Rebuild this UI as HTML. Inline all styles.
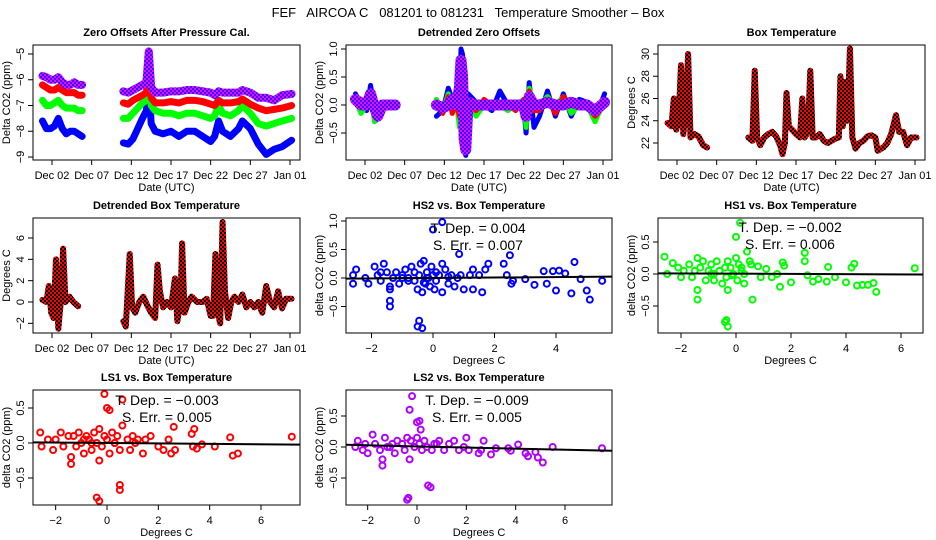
<!DOCTYPE html>
<html><head><meta charset="utf-8">
<style>
html,body{margin:0;padding:0;background:#fff;}
svg{display:block;font-family:"Liberation Sans",sans-serif;}
</style></head>
<body>
<svg id="chart" width="936" height="540" viewBox="0 0 936 540" xmlns="http://www.w3.org/2000/svg">
<defs>
<pattern id="purp" patternUnits="userSpaceOnUse" width="4" height="4"><rect width="4" height="4" fill="#ff00ff"/><rect width="2" height="2" fill="#2020ff"/><rect x="2" y="2" width="2" height="2" fill="#2020ff"/></pattern>
<pattern id="redblk" patternUnits="userSpaceOnUse" width="4" height="4"><rect width="4" height="4" fill="#ff0000"/><rect width="2" height="2" fill="#000"/><rect x="2" y="2" width="2" height="2" fill="#000"/></pattern>
</defs>
<text x="468" y="17" text-anchor="middle" font-size="13" style="white-space:pre" xml:space="preserve">FEF   AIRCOA C   081201 to 081231   Temperature Smoother – Box</text>
</svg>
<script>
// ---------- data ----------
const zeroTime=[0.8,1.3,1.8,2.3,2.8,3.3,3.8,4.3,4.8,5.3,5.8,11,11.6,12.2,12.8,13.4,13.9,14.2,14.5,15,16,17,18,19,20,21,22,22.5,23,23.5,24.5,25.5,26,27,28,29,30,31,32.2];
const zeroHS2=[-7.6,-7.9,-7.9,-7.8,-7.5,-7.9,-8.1,-8.0,-8.0,-8.1,-8.2,-8.45,-8.5,-8.3,-7.9,-7.5,-7.2,-6.0,-7.7,-8.0,-8.1,-8.0,-8.2,-8.0,-8.0,-8.2,-8.4,-8.2,-7.6,-8.0,-8.2,-7.9,-7.6,-7.9,-8.5,-8.9,-8.7,-8.6,-8.35];
const zeroHS1=[-6.8,-7.0,-7.0,-6.9,-6.8,-7.0,-7.1,-7.1,-7.1,-7.2,-7.2,-7.5,-7.5,-7.3,-7.1,-6.9,-6.8,-5.6,-7.0,-7.2,-7.3,-7.3,-7.4,-7.3,-7.3,-7.4,-7.5,-7.4,-7.0,-7.3,-7.4,-7.2,-7.0,-7.3,-7.7,-7.8,-7.7,-7.6,-7.5];
const zeroLS1=[-6.2,-6.3,-6.4,-6.4,-6.3,-6.4,-6.5,-6.5,-6.5,-6.6,-6.6,-6.9,-6.95,-6.8,-6.7,-6.6,-6.5,-5.4,-6.7,-6.9,-6.9,-6.85,-6.9,-6.8,-6.8,-6.85,-6.95,-7.0,-6.8,-6.9,-6.9,-6.85,-6.75,-6.95,-7.1,-7.2,-7.15,-7.1,-7.0];
const zeroLS2=[-5.85,-5.9,-6.0,-6.0,-5.9,-6.1,-6.2,-6.2,-6.1,-6.2,-6.2,-6.45,-6.5,-6.4,-6.3,-6.2,-6.1,-4.9,-6.3,-6.5,-6.5,-6.45,-6.45,-6.4,-6.4,-6.45,-6.5,-6.6,-6.45,-6.5,-6.5,-6.5,-6.4,-6.5,-6.7,-6.7,-6.8,-6.6,-6.55];

const detTime=[0.8,1.5,2.2,2.7,3.2,3.6,4.2,5,5.8,11,11.8,12.5,13,13.5,13.9,14.1,14.3,14.5,14.7,15,16,17,18,19,20,21,22,22.3,22.7,23.3,24,25,26,27,28,29,30,31,32.2];
const detLS2=[0.1,0,0,0.2,-0.05,-0.2,0,0,0,0,-0.05,0,0.1,0,0.3,0.8,0.5,-0.6,-0.8,0.05,0,0,0,0,0,0,0,-0.2,0.15,0,0,0.05,0,0,0.05,0,0,-0.1,0.05];
const detHS2=[0.2,0,-0.1,0.35,-0.1,-0.25,0,0,0,-0.2,-0.1,0.3,0.1,0.2,-0.2,1.0,0.9,-0.7,-0.9,0.2,0.05,0,-0.1,0.25,0,0,0,-0.5,0.4,-0.4,-0.2,0.25,-0.2,0.2,-0.2,0.1,0.05,-0.25,0.2];
const detHS1=[0.1,-0.15,0,0.25,-0.3,-0.25,0,0,0,0.1,-0.1,0.2,0,0.1,-0.4,0.8,0.6,-0.6,-0.75,0.1,-0.2,0,0,0,-0.1,0,0.1,-0.4,0.3,0,0,0.15,0,0.15,-0.15,0,0,-0.3,0.1];
const detLS1=[0.15,0.1,0,0.25,-0.1,-0.2,0,0,0,0.05,-0.15,0.15,-0.15,0.05,-0.2,0.6,0.7,-0.55,-0.8,0.05,-0.1,0.1,0,0,0,-0.1,0.1,-0.1,0.25,-0.1,-0.1,0.1,-0.15,0.15,0,0.05,0,-0.2,0];

const boxTime=[0.8,1.3,1.6,1.9,2.2,2.5,2.8,3.1,3.4,3.7,4.2,4.7,5.3,5.8,11,11.5,11.8,12.1,12.5,13,13.5,14,14.5,15,15.3,15.6,15.8,16.1,16.5,17,17.5,17.8,18.1,18.5,18.8,19.1,19.5,20,20.5,21,21.5,22,22.4,22.6,22.9,23.2,23.5,23.8,24.1,24.5,25,25.5,26,26.5,27,27.3,28,28.5,29,29.6,30,30.5,31,31.5,32.2];
const boxTemp=[23.8,23.5,26,23.2,24,29,22.8,25,30,22.5,22.8,22.6,21.8,21.6,22.5,22.2,28.5,22.5,21.8,22.5,22.8,23,22.6,21.8,21,22,26.5,23.5,23.2,22.8,22.5,26,22.5,23,28.5,22.5,22.5,22.8,22.2,22,22.2,22.4,22.5,28,23.5,27.5,24,30.5,22.5,21.5,22,22.2,22.6,22.7,22.5,21.3,21.6,22,22.8,24.5,23,23,21.8,22.5,22.5];
const dboxTime=[0.8,1.3,1.6,1.9,2.2,2.5,2.8,3.1,3.4,3.7,4.2,4.7,5.3,11,11.3,11.8,12.1,12.5,13,13.5,14,14.5,15,15.3,15.6,16,16.5,17,17.5,17.8,18.2,18.4,18.7,19.2,19.6,20.3,21,21.5,22,22.3,22.6,22.9,23.2,23.5,23.8,24.2,24.6,25,25.5,26,26.5,27,27.5,28,28.5,29,29.5,30,30.5,31,31.5,32.2];
const dboxTemp=[0.2,0,1.5,-1,-1.5,4,-2.5,0,5,0,0.5,0,-0.4,-1.8,-2.3,4.5,-0.5,-1,0,0.5,-0.3,-1,-1.5,3.5,1,-0.5,0,-0.5,2.2,-1.8,0,5.5,-1,0,0.5,0,0,0.3,-1.3,-1.3,4.5,-1,-2,7.5,1,-1.5,0,0.5,0,0.7,-0.5,0,-0.5,0,-1,1.5,0,-0.5,1,-0.6,0.3,0.3];

const hs2Temp=[-2.6,-2.6,-2.5,-2.2,-2.1,-1.9,-1.8,-1.7,-1.6,-1.5,-1.4,-1.4,-1.4,-1.3,-1.2,-1.1,-1,-0.9,-0.8,-0.7,-0.6,-0.5,-0.45,-0.4,-0.35,-0.3,-0.25,-0.2,-0.15,-0.1,-0.05,0,0.05,0.1,0.2,0.3,0.3,0.4,0.5,0.6,0.7,0.8,0.9,1.0,1.2,1.3,1.3,1.5,1.6,1.7,1.8,2.3,2.4,2.5,2.55,2.6,3.0,3.3,3.6,3.7,3.9,4.0,4.1,4.3,4.5,4.6,4.8,5.0,5.1,5.5,-1.4,-0.5,-0.45,-0.35,0.0,0.3,0.85,-0.8,-0.6,-0.2,0.1,0.5,-1.0,-1.7,-0.3];
const hs2Delta=[0.05,-0.1,0.15,0.0,-0.1,0.2,0.05,-0.05,0.25,0.1,-0.2,-0.4,-0.5,0.0,0.1,-0.1,0.05,0.15,-0.05,0.2,0.1,-0.2,0.05,0.25,-0.25,0.3,-0.1,0.1,0.0,-0.15,0.2,0.05,-0.2,0.1,0.05,0.25,-0.25,0.15,-0.1,0.05,-0.15,0.0,0.05,-0.2,0.05,0.15,-0.2,0.05,-0.25,0.15,0.25,0.25,0.05,0.4,-0.1,-0.05,-0.02,-0.12,0.12,-0.1,0.12,-0.22,0.13,0.08,-0.27,0.28,-0.02,-0.22,-0.38,-0.05,-0.15,-0.85,-0.75,-0.88,0.85,0.98,0.42,0.0,-0.05,0.0,-0.05,0.02,0.0,0.1,-0.08];
const hs1Temp=[-2.6,-2.5,-2.3,-2.1,-2.0,-1.9,-1.7,-1.6,-1.4,-1.4,-1.4,-1.3,-1.2,-1.1,-1.0,-0.9,-0.8,-0.7,-0.6,-0.5,-0.4,-0.35,-0.3,-0.3,-0.2,-0.1,0,0.05,0.1,0.2,0.2,0.3,0.4,0.5,0.55,0.6,0.8,0.9,1.1,1.3,1.5,1.6,1.7,1.75,2.0,2.5,2.5,2.6,2.8,3.0,3.3,3.35,3.6,4.0,4.2,4.3,4.4,4.6,4.8,5.0,5.1,6.5,-0.4,-0.35,-0.3,0.0,0.15,-0.8,-0.6,-0.15,0.3,-1.5,-0.9];
const hs1Delta=[0.27,0.0,0.17,0.1,-0.05,0.05,0.15,-0.05,0.25,-0.25,-0.4,0.1,0.2,-0.1,0.05,0.15,-0.1,0.2,0.05,-0.15,0.1,-0.05,0.2,-0.25,0.1,0.0,0.25,-0.1,0.15,0.05,0.1,-0.15,0.35,0.2,0.15,-0.4,0.12,-0.05,0.08,-0.05,0.0,-0.2,0.18,0.13,-0.13,0.33,0.2,-0.02,-0.12,-0.08,-0.12,0.11,-0.05,-0.13,0.1,0.16,-0.18,-0.17,-0.17,-0.14,-0.28,0.09,-0.75,-0.72,-0.82,0.58,0.8,0.0,0.05,-0.02,0.0,0.05,0.0];
const ls1Temp=[-2.6,-2.55,-2.3,-2.1,-2.0,-1.8,-1.7,-1.5,-1.4,-1.4,-1.3,-1.2,-1.1,-1.0,-0.9,-0.8,-0.7,-0.6,-0.5,-0.4,-0.3,-0.3,-0.2,-0.1,0,0.1,0.2,0.3,0.4,0.5,0.6,0.8,0.9,1.0,1.2,1.4,1.5,1.7,2.0,2.2,2.4,2.5,2.6,2.65,3.3,3.35,3.4,3.5,3.7,4.2,4.8,4.9,5.1,7.2,-0.4,-0.3,-0.1,0.0,0.1,0.5,0.5,0.6,-0.6,0.3,-0.9,1.1];
const ls1Delta=[0.15,-0.05,0.05,-0.1,0.05,0.15,-0.05,0.1,-0.2,-0.3,0.1,-0.05,0.15,0.0,-0.15,0.1,0.05,-0.1,0.15,0.0,-0.25,0.2,-0.05,0.1,0.05,-0.15,0.15,0.0,0.1,-0.1,0.25,0.05,-0.1,0.1,0.05,-0.15,0.05,0.1,-0.05,-0.1,0.05,-0.15,0.23,-0.1,0.13,-0.05,0.2,-0.08,-0.02,-0.05,0.08,-0.18,-0.15,0.09,-0.78,-0.83,0.7,0.5,0.47,-0.6,-0.67,0.62,0.0,0.0,0.05,0.0];
const ls2Temp=[-2.5,-2.4,-2.2,-2.1,-2.0,-1.8,-1.7,-1.5,-1.4,-1.4,-1.3,-1.2,-1.0,-0.9,-0.8,-0.6,-0.5,-0.4,-0.3,-0.25,-0.1,0,0.1,0.2,0.3,0.4,0.6,0.8,0.9,1.1,1.3,1.5,1.7,1.9,2.0,2.1,2.5,2.6,2.7,3.0,3.2,3.7,3.8,4.1,4.4,4.5,4.8,4.9,5.1,5.5,7.5,-0.4,-0.35,-0.2,-0.3,0.0,0.1,0.15,0.45,0.55,-1.1,0.7];
const ls2Delta=[0.0,0.1,-0.05,0.05,-0.1,0.2,0.05,-0.05,-0.3,-0.2,0.15,0.0,0.05,-0.1,0.1,0.05,-0.05,0.15,-0.2,0.1,0.0,0.15,0.05,-0.05,0.1,0.0,-0.05,0.05,0.1,-0.05,0.05,0.1,-0.05,0.0,0.15,-0.05,-0.1,-0.05,0.1,-0.12,-0.02,-0.02,-0.06,0.04,-0.1,-0.15,-0.08,-0.17,-0.25,0.0,-0.02,-0.85,-0.82,0.82,0.6,0.4,0.42,0.28,-0.62,-0.65,0.0,0.05];

const fitSlope=[0.004,-0.002,-0.003,-0.009];
const fitIntercept=[0.0,0.005,0.0,0.01];
const fitTexts=[["T. Dep. =  0.004","S. Err. =  0.007"],["T. Dep. =  \u22120.002","S. Err. =  0.006"],["T. Dep. =  \u22120.003","S. Err. =  0.005"],["T. Dep. =  \u22120.009","S. Err. =  0.005"]];
const dateTicks=[2,7,12,17,22,27,32];
const dateLabels=["Dec 02","Dec 07","Dec 12","Dec 17","Dec 22","Dec 27","Jan 01"];

// ---------- helpers ----------
const svg=document.getElementById('chart');
const NS='http://www.w3.org/2000/svg';
function el(tag,attrs,parent){const e=document.createElementNS(NS,tag);for(const k in attrs)e.setAttribute(k,attrs[k]);(parent||svg).appendChild(e);return e;}
function lin(d0,d1,r0,r1){return v=>r0+(v-d0)*(r1-r0)/(d1-d0);}
function fmt(v){let s=(Math.abs(v)<1e-9?0:v);return (s<0?'\u2212':'')+Math.abs(s);}

function panel(p){
  const g=el('g',{});
  
  
  const t=el('text',{x:(p.L+p.R)/2,y:p.T-9,'text-anchor':'middle','font-size':'11','font-weight':'bold'},g);
  t.textContent=p.title;
  
  
  const xa=el('g',{},g);
  
  
  const xs=p.xt.map(p.x);
  el('line',{x1:xs[0],x2:xs[xs.length-1],y1:p.B,y2:p.B,stroke:'#000'},xa);
  p.xt.forEach((v,i)=>{
    el('line',{x1:xs[i],x2:xs[i],y1:p.B,y2:p.B+5,stroke:'#000'},xa);
    const tx=el('text',{x:xs[i],y:p.B+19,'text-anchor':'middle','font-size':'11'},xa);
    tx.textContent=p.xl?p.xl[i]:fmt(v);
    
    
  });
  const xl=el('text',{x:(p.L+p.R)/2,y:p.B+31,'text-anchor':'middle','font-size':'11'},g);
  xl.textContent=p.xlab;
  
  
  const ya=el('g',{},g);
  
  
  const ys=p.yt.map(p.y);
  el('line',{x1:p.L,x2:p.L,y1:ys[0],y2:ys[ys.length-1],stroke:'#000'},ya);
  p.yt.forEach((v,i)=>{
    el('line',{x1:p.L-5,x2:p.L,y1:ys[i],y2:ys[i],stroke:'#000'},ya);
    const tx=el('text',{x:p.L-9,y:ys[i],'text-anchor':'middle','font-size':'11',transform:`rotate(-90 ${p.L-9} ${ys[i]})`},ya);
    tx.textContent=p.ytl?p.ytl[i]:fmt(v);
    
    
  });
  const yl=el('text',{x:p.L-23,y:(p.T+p.B)/2,'text-anchor':'middle','font-size':'11',transform:`rotate(-90 ${p.L-23} ${(p.T+p.B)/2})`},g);
  yl.textContent=p.ylab;
  
  
  const clip=el('clipPath',{id:'c'+p.name},g);
  el('rect',{x:p.L,y:p.T,width:p.R-p.L,height:p.B-p.T},clip);
  const plot=el('g',{'clip-path':`url(#c${p.name})`},g);
  const box=el('rect',{x:p.L,y:p.T,width:p.R-p.L,height:p.B-p.T,fill:'none',stroke:'#000'},g);
  
  
  return plot;
}

function series(plot,ts,vs,x,y,color,w,name){
  let segs=[],cur=[];
  for(let i=0;i<ts.length&&i<vs.length;i++){
    if(cur.length&&ts[i]-ts[i-1]>3){segs.push(cur);cur=[];}
    cur.push([x(ts[i]),y(vs[i])]);
  }
  segs.push(cur);
  segs.forEach(s=>{
    const pl=el('polyline',{points:s.map(p=>p.join(',')).join(' '),fill:'none',stroke:color,'stroke-width':w,'stroke-linejoin':'round','stroke-linecap':'round'},plot);
    
    
  });
}

function scatter(plot,xsArr,ysArr,x,y,color,name){
  const n=Math.min(xsArr.length,ysArr.length);
  for(let i=0;i<n;i++){
    const c=el('circle',{cx:x(xsArr[i]),cy:y(ysArr[i]),r:3,fill:'none',stroke:color,'stroke-width':2},plot);
    
    
  }
}

const cols=[[33,300],[346,612],[658,925]];
const rows=[[45,160],[218,333],[390,505]];
function tscale(L){return lin(2,32,L+19,L+257);}

{const [L,R]=cols[0],[T,B]=rows[0];const x=tscale(L),y=lin(-5,-9,54,157);
 const pl=panel({name:'zero-offsets-panel',L,R,T,B,x,y,xt:dateTicks,xl:dateLabels,yt:[-9,-8,-7,-6,-5],title:'Zero Offsets After Pressure Cal.',xlab:'Date (UTC)',ylab:'Delta CO2 (ppm)'});
 series(pl,zeroTime,zeroHS2,x,y,'#0000ff',7,'hs2-line');
 series(pl,zeroTime,zeroHS1,x,y,'#00ff00',7,'hs1-line');
 series(pl,zeroTime,zeroLS1,x,y,'#ff0000',7,'ls1-line');
 series(pl,zeroTime,zeroLS2,x,y,'url(#purp)',8,'ls2-line');}
{const [L,R]=cols[1],[T,B]=rows[0];const x=tscale(L),y=lin(0,1,105,49);
 const pl=panel({name:'detrended-zero-panel',L,R,T,B,x,y,xt:dateTicks,xl:dateLabels,yt:[-0.5,0,0.5,1],ytl:['\u22120.5','0.0','0.5','1.0'],title:'Detrended Zero Offsets',xlab:'Date (UTC)',ylab:'Delta CO2 (ppm)'});
 series(pl,detTime,detHS2,x,y,'#0000ff',5,'hs2-detrended');
 series(pl,detTime,detHS1,x,y,'#00ff00',5,'hs1-detrended');
 series(pl,detTime,detLS1,x,y,'#ff0000',5,'ls1-detrended');
 series(pl,detTime,detLS2,x,y,'url(#purp)',11,'ls2-detrended');}
{const [L,R]=cols[2],[T,B]=rows[0];const x=tscale(L),y=lin(22,30,143,54);
 const pl=panel({name:'box-temperature-panel',L,R,T,B,x,y,xt:dateTicks,xl:dateLabels,yt:[22,24,26,28,30],title:'Box Temperature',xlab:'Date (UTC)',ylab:'Degrees C'});
 series(pl,boxTime,boxTemp,x,y,'url(#redblk)',6,'box-temp-line');}
{const [L,R]=cols[0],[T,B]=rows[1];const x=tscale(L),y=lin(0,6,302,238);
 const pl=panel({name:'detrended-box-temp-panel',L,R,T,B,x,y,xt:dateTicks,xl:dateLabels,yt:[-2,0,2,4,6],title:'Detrended Box Temperature',xlab:'Date (UTC)',ylab:'Degrees C'});
 series(pl,dboxTime,dboxTemp,x,y,'url(#redblk)',6,'detrended-box-temp-line');}

function scatterPanel(idx,name,title,L,R,T,B,x,y,xt,yt,ytl,xa,ya,color,tx,tyy){
  const pl=panel({name,L,R,T,B,x,y,xt,yt,ytl,title,xlab:'Degrees C',ylab:'delta CO2 (ppm)'});
  scatter(pl,xa,ya,x,y,color,'scatter-point');
  const x0=-3,x1=8;
  const ln=el('line',{x1:x(x0),y1:y(fitIntercept[idx]+fitSlope[idx]*x0),x2:x(x1),y2:y(fitIntercept[idx]+fitSlope[idx]*x1),stroke:'#000','stroke-width':2},pl);
  
  
  fitTexts[idx].forEach((s,i)=>{
    const t=el('text',{x:tx,y:tyy+i*17,'text-anchor':'middle','font-size':'14'});
    t.textContent=s;
    
    
  });
}
scatterPanel(0,'hs2-vs-temp-panel','HS2 vs. Box Temperature',346,612,218,333,lin(0,4,433,556),lin(0,1,278,221),[-2,0,2,4],[-0.5,0,0.5,1],['\u22120.5','0.0','0.5','1.0'],hs2Temp,hs2Delta,'#0000ff',478,233);
scatterPanel(1,'hs1-vs-temp-panel','HS1 vs. Box Temperature',658,923,218,333,lin(0,6,736,901),lin(0,0.5,274,242),[-2,0,2,4,6],[-0.5,0,0.5],['\u22120.5','0.0','0.5'],hs1Temp,hs1Delta,'#00ff00',790,232);
scatterPanel(2,'ls1-vs-temp-panel','LS1 vs. Box Temperature',33,300,390,505,lin(0,6,107,261),lin(0,0.5,443,408),[-2,0,2,4,6],[-0.5,0,0.5],['\u22120.5','0.0','0.5'],ls1Temp,ls1Delta,'#ff0000',167,405);
scatterPanel(3,'ls2-vs-temp-panel','LS2 vs. Box Temperature',346,612,390,505,lin(0,6,417,565),lin(0,0.5,447,416),[-2,0,2,4,6],[-0.5,0,0.5],['\u22120.5','0.0','0.5'],ls2Temp,ls2Delta,'#b000ff',477,405);
</script>
</body></html>
